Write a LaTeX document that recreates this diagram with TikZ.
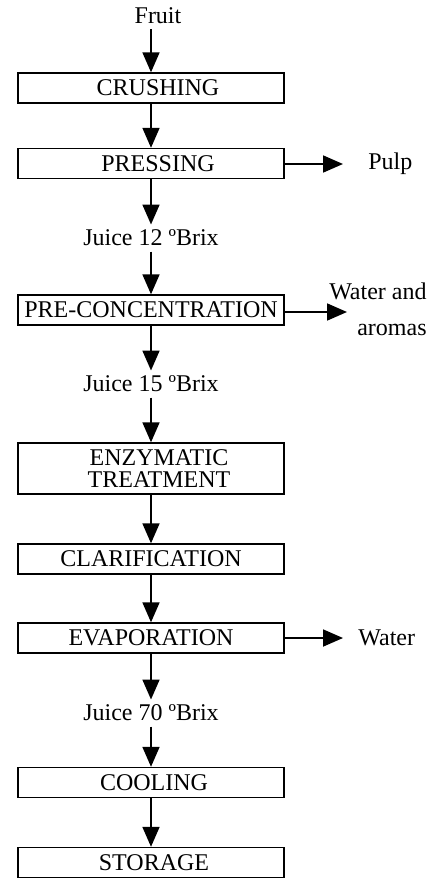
\documentclass[tikz,border=0pt]{standalone}
\usepackage{fontspec}
\setmainfont{Liberation Serif}
\usetikzlibrary{arrows.meta,positioning}

\begin{document}
\begin{tikzpicture}[
  x=0.5pt, y=-0.5pt,
  >={Triangle[width=8.5pt,length=10pt]},
  flow/.style  ={->, line width=0.9pt},
  stage/.style ={draw, line width=0.7pt, minimum width=133pt, minimum height=15pt,
                 inner xsep=2.2pt, inner ysep=0pt, align=center,
                 font=\fontsize{12}{11}\selectfont},
  stream/.style={inner sep=2.5pt},
  every node/.style={font=\fontsize{12}{14}\selectfont}
]
\useasboundingbox (0,0) rectangle (434,879);

% --- process stages (centre line x = 151)
\node[stage] (crushing)      at (151,88)    {\hspace*{7pt}CRUSHING};
\node[stage] (pressing)      at (151,163.5) {\hspace*{7pt}PRESSING};
\node[stage] (precon)        at (151,310)   {PRE-CONCENTRATION};
\node[stage, minimum height=25.5pt] (enzymatic) at (151,468.5)
  {\hspace*{8pt}ENZYMATIC\\\hspace*{8pt}TREATMENT};
\node[stage] (clarification) at (151,559)   {CLARIFICATION};
\node[stage] (evaporation)   at (151,638)   {EVAPORATION};
\node[stage] (cooling)       at (151,782.5) {\hspace*{3pt}COOLING};
\node[stage] (storage)       at (151,862.5) {\hspace*{3pt}STORAGE};

% --- streams on the main line
\node[stream] (fruit)   at (158,16)  {Fruit};
\node[stream] (juice12) at (151,238) {Juice 12 ºBrix};
\node[stream] (juice15) at (151,384) {Juice 15 ºBrix};
\node[stream] (juice70) at (151,713) {Juice 70 ºBrix};

% --- side streams
\coordinate (pulpend)  at (343,164);
\coordinate (aromaend) at (347,312);
\coordinate (waterend) at (343,638);
\node[stream, right=10pt of pulpend] (pulp) {Pulp};
\node[stream, anchor=east, align=right, font=\fontsize{12}{18}\selectfont]
  (aromas) at (432,309) {Water and\\aromas};
\node[stream, right=5pt of waterend] (water) {Water};

% --- connectors
\draw[flow] (crushing.north |- fruit.south) -- (crushing.north);
\foreach \a/\b in {crushing/pressing, pressing/juice12, juice12/precon,
                   precon/juice15, juice15/enzymatic, enzymatic/clarification,
                   clarification/evaporation, evaporation/juice70,
                   juice70/cooling, cooling/storage}
  \draw[flow] (\a) -- (\b);

\draw[flow] (pressing.east |- pulpend)  -- (pulpend);
\draw[flow] (precon.east |- aromaend)   -- (aromaend);
\draw[flow] (evaporation.east |- waterend) -- (waterend);

\end{tikzpicture}
\end{document}
